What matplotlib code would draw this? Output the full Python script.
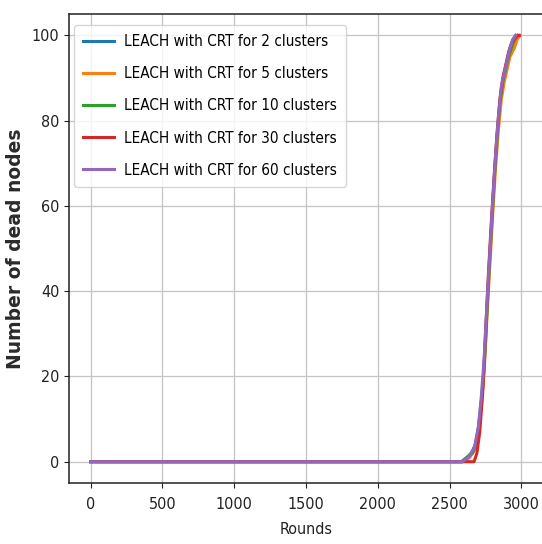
import matplotlib
matplotlib.use("Agg")
import matplotlib.pyplot as plt

plt.rcParams['font.family'] = ['DejaVu Sans']
plt.rcParams['font.stretch'] = 'condensed'

labels = ["LEACH with CRT for 2 clusters", "LEACH with CRT for 5 clusters",
          "LEACH with CRT for 10 clusters", "LEACH with CRT for 30 clusters",
          "LEACH with CRT for 60 clusters"]

rounds_2 = [0, 2590, 2620, 2650, 2680, 2700, 2720, 2740, 2760, 2780, 2800, 2820, 2840, 2860, 2880, 2900, 2920, 2940, 2960]
dead_2 = [0, 0, 1, 2, 4, 8, 14, 22, 36, 48, 60, 71, 80, 87, 91, 94, 97, 99, 100]

rounds_5 = [0, 2600, 2640, 2680, 2700, 2720, 2740, 2760, 2780, 2800, 2820, 2840, 2860, 2880, 2900, 2920, 2950, 2970, 2990]
dead_5 = [0, 0, 1, 3, 7, 13, 21, 34, 46, 58, 69, 78, 85, 89, 92, 95, 97, 99, 100]

rounds_10 = [0, 2580, 2620, 2660, 2690, 2710, 2730, 2750, 2770, 2790, 2810, 2830, 2850, 2870, 2890, 2910, 2930, 2950, 2975]
dead_10 = [0, 0, 1, 2, 5, 10, 17, 28, 42, 54, 66, 76, 84, 89, 92, 95, 97, 99, 100]

rounds_30 = [0, 2670, 2690, 2710, 2730, 2750, 2770, 2790, 2810, 2830, 2850, 2870, 2890, 2910, 2930, 2950, 2970, 2985]
dead_30 = [0, 0, 2, 7, 16, 30, 44, 56, 67, 77, 85, 90, 93, 96, 98, 99, 100, 100]

rounds_60 = [0, 2590, 2630, 2670, 2700, 2720, 2740, 2760, 2780, 2800, 2820, 2840, 2860, 2880, 2900, 2920, 2940, 2960]
dead_60 = [0, 0, 1, 3, 8, 15, 24, 37, 49, 61, 72, 81, 88, 91, 94, 97, 99, 100]

series = [(rounds_2, dead_2), (rounds_5, dead_5), (rounds_10, dead_10),
          (rounds_30, dead_30), (rounds_60, dead_60)]

fig = plt.figure(figsize=(5.42, 5.44), dpi=100)
ax = fig.add_axes([0.1273, 0.1121, 0.8745, 0.862])

for (r, d), lab in zip(series, labels):
    ax.plot(r, d, lw=2.2, label=lab)

ax.set_xticks([0, 500, 1000, 1500, 2000, 2500, 3000])
ax.set_yticks([0, 20, 40, 60, 80, 100])
ax.set_xlim(-150, 3150)
ax.set_ylim(-5, 105)
ax.grid(True, color='#c4c4c4', lw=0.9)
ax.tick_params(labelsize=11.5, colors='#222222')
ax.tick_params(axis='x', pad=6.5)
for s in ax.spines.values():
    s.set_linewidth(1.1)
    s.set_color('#222222')
ax.spines['right'].set_visible(False)

ax.set_xlabel("Rounds", fontsize=11.5, labelpad=7, color='#222222')
ax.set_ylabel("Number of dead nodes", fontsize=13.5, fontweight='bold',
              fontstretch='normal', labelpad=5, color='#2a2a2a')

ax.legend(loc='upper left', bbox_to_anchor=(0.0106, 0.9765), borderaxespad=0,
          fontsize=11, borderpad=0.6, labelspacing=1.12, handlelength=2.0,
          handletextpad=0.7)

fig.savefig("out.png", dpi=100)
